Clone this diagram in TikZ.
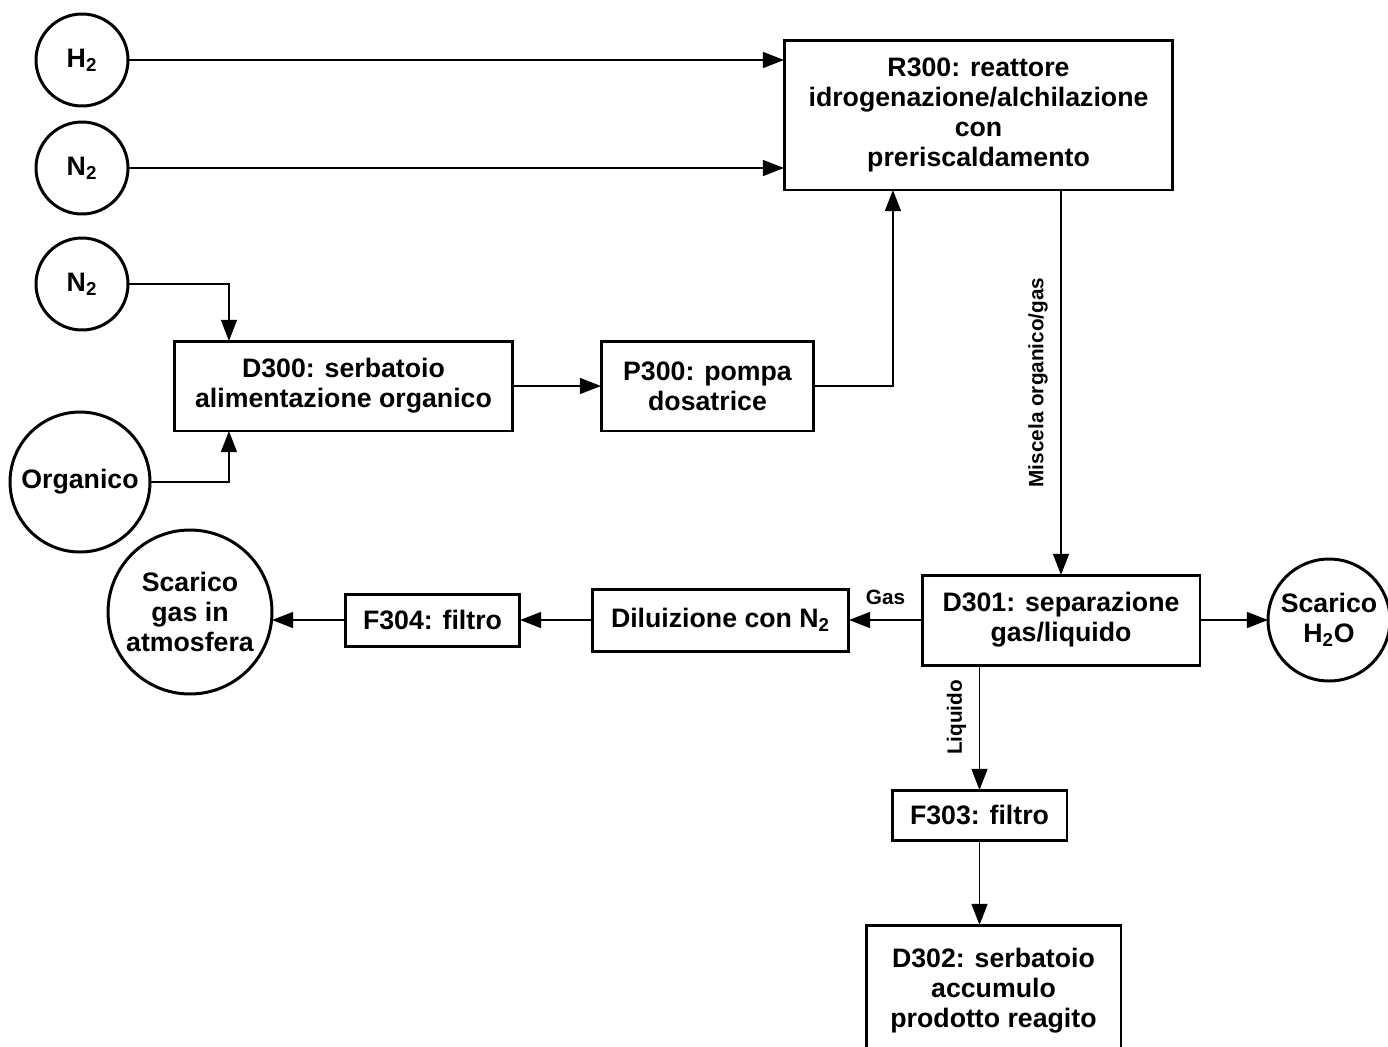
\documentclass[tikz,border=0pt]{standalone}
\usepackage{fontspec}
\setmainfont{Liberation Sans}
\usetikzlibrary{arrows.meta,calc}

\tikzset{
  txt/.style={font=\bfseries\fontsize{15.2}{17.2}\selectfont, align=center},
  lbl/.style={font=\bfseries\fontsize{11.8}{13}\selectfont, inner sep=2pt},
  box/.style={txt, draw, line width=1.7pt, inner sep=0pt, outer sep=0pt},
  feed/.style={txt, draw, circle, line width=1.7pt, inner sep=0pt, outer sep=0pt},
  arr/.style={line width=1.1pt, -{Triangle[length=12pt,width=9pt]}}
}

\begin{document}
\begin{tikzpicture}[x=0.02cm, y=-0.02cm]
  \clip (0,0) rectangle (1388,1046);
  \fill[white] (0,0) rectangle (1388,1046);

  % feed streams
  \node[feed, minimum size=1.84cm] (h2)  at (82,60)  {H\textsubscript{2}};
  \node[feed, minimum size=1.84cm] (n2a) at (82,168) {N\textsubscript{2}};
  \node[feed, minimum size=1.84cm] (n2b) at (82,284) {N\textsubscript{2}};
  \node[feed, minimum size=2.8cm]  (org) at (80,482) {Organico};

  % process units
  \node[box, minimum width=7.78cm, minimum height=3.0cm] (r300) at (978.5,115)
    {R300: reattore\\idrogenazione/alchilazione\\con\\preriscaldamento};
  \node[box, minimum width=6.78cm, minimum height=1.8cm] (d300) at (343.5,386)
    {D300: serbatoio\\alimentazione organico};
  \node[box, minimum width=4.26cm, minimum height=1.8cm] (p300) at (707.5,386)
    {P300: pompa\\dosatrice};
  \node[box, minimum width=5.56cm, minimum height=1.8cm] (d301) at (1061,620)
    {D301: separazione\\gas/liquido};
  \node[box, minimum width=5.14cm, minimum height=1.24cm] (dil) at (720.5,620)
    {Diluizione con N\textsubscript{2}};
  \node[box, minimum width=3.5cm, minimum height=1.04cm] (f304) at (432.5,620)
    {F304: filtro};
  \node[feed, minimum size=3.28cm] (atm) at (190,612)
    {Scarico\\gas in\\atmosfera};
  \node[feed, minimum size=2.44cm] (h2o) at (1329,620)
    {Scarico\\H\textsubscript{2}O};
  \node[box, minimum width=3.5cm, minimum height=1.0cm] (f303) at (979.5,815)
    {F303: filtro};
  \node[box, minimum width=5.1cm, minimum height=2.8cm] (d302) at (993.5,995)
    {D302: serbatoio\\accumulo\\prodotto reagito\\[-9pt]};

  % connections
  \draw[arr] (h2.east)  -- (h2.east -| r300.west);
  \draw[arr] (n2a.east) -- (n2a.east -| r300.west);
  \draw[arr] (n2b.east) -| ($(d300.north west)!0.162!(d300.north east)$);
  \draw[arr] (org.east) -| ($(d300.south west)!0.162!(d300.south east)$);
  \draw[arr] (d300.east) -- (p300.west);
  \draw[arr] (p300.east) -| ($(r300.south west)!0.28!(r300.south east)$);
  \draw[arr] (r300.south -| d301.north) -- (d301.north)
    node[lbl, midway, rotate=90, anchor=south, yshift=5pt] {Miscela organico/gas};
  \draw[arr] (d301.west) -- (dil.east)
    node[lbl, midway, anchor=south, yshift=6pt] {Gas};
  \draw[arr] (dil.west) -- (f304.east);
  \draw[arr] (f304.west) -- (atm.east |- f304.west);
  \draw[arr] (d301.east) -- (h2o.west);
  \draw[arr] (d301.south -| f303.north) -- (f303.north)
    node[lbl, pos=0.42, rotate=90, anchor=south, yshift=5pt] {Liquido};
  \draw[arr] (f303.south) -- (f303.south |- d302.north);
\end{tikzpicture}
\end{document}
